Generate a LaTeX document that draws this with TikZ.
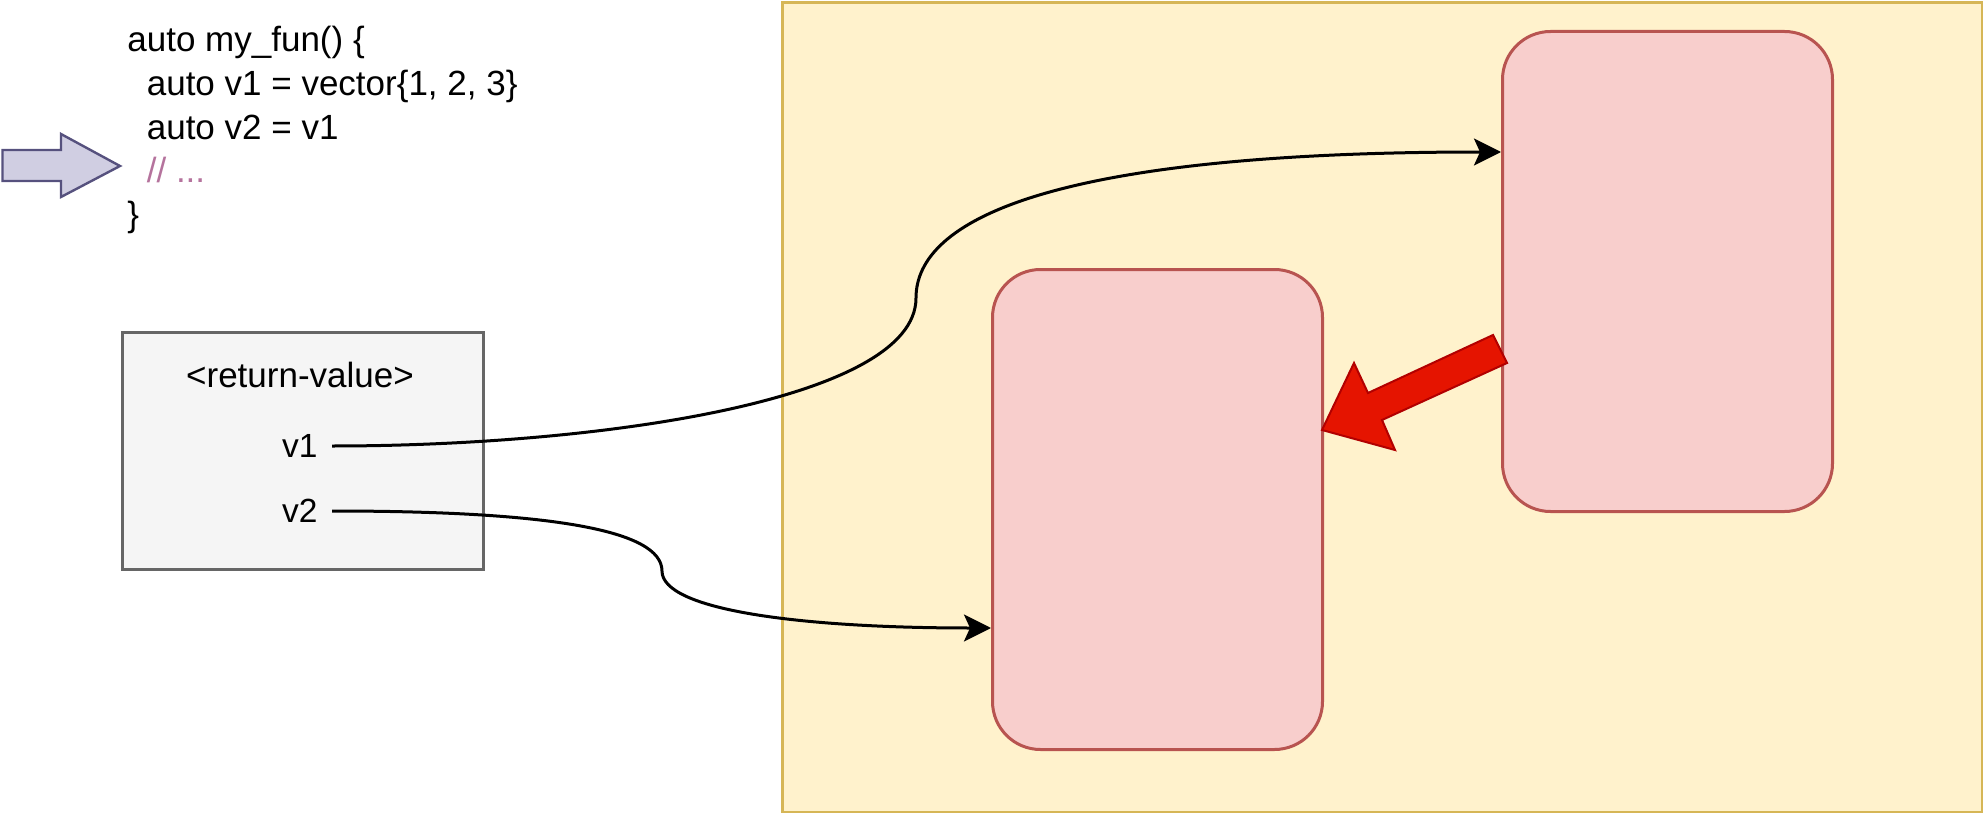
\documentclass[tikz,border=0pt]{standalone}
\usepackage{fontspec}
\setmainfont{Liberation Sans}
\usetikzlibrary{arrows.meta}
\definecolor{pinkfill}{HTML}{F8CECC}
\definecolor{pinkline}{HTML}{B85450}
\definecolor{yelfill}{HTML}{FFF2CC}
\definecolor{yelline}{HTML}{D6B656}
\definecolor{grayfill}{HTML}{F5F5F5}
\definecolor{grayline}{HTML}{666666}
\definecolor{bluefill}{HTML}{D0CEE2}
\definecolor{blueline}{HTML}{56517E}
\definecolor{redfill}{HTML}{E51400}
\definecolor{redline}{HTML}{B20000}
\definecolor{commentcol}{HTML}{B5739D}
\tikzset{
  memblock/.style={draw=pinkline, fill=pinkfill, line width=1.5pt, rounded corners=24pt, minimum width=165pt, minimum height=240pt, inner sep=0pt, anchor=north west},
  heapbox/.style={draw=yelline, fill=yelfill, line width=1.5pt, minimum width=600pt, minimum height=405pt, inner sep=0pt, anchor=north west},
  framebox/.style={draw=grayline, fill=grayfill, line width=1.5pt, minimum width=180.5pt, minimum height=118.5pt, inner sep=0pt, anchor=north west},
  codeline/.style={anchor=base west, inner sep=0pt, font=\fontsize{17.5pt}{21pt}\selectfont},
  varlabel/.style={anchor=base east, inner sep=0pt, font=\fontsize{16.75pt}{20pt}\selectfont},
  conn/.style={line width=1.5pt, -{Stealth[length=13.5pt, width=13.5pt, inset=3pt]}},
}
\begin{document}
\begin{tikzpicture}[x=0.5pt, y=-0.5pt]
\useasboundingbox (0,0) rectangle (1983,813);
% heap area
\node[heapbox] (heap) at (781,1) {};
% memory blocks
\node[memblock] (boxR) at (1501,30) {};
\node[memblock] (boxL) at (991,268) {};
% frame box
\node[framebox] (frame) at (121,331) {};
\node[anchor=base, inner sep=0pt, font=\fontsize{17.5pt}{21pt}\selectfont] (rv) at (300,387) {<return-value>};
\node[varlabel] (v1) at (318,457) {v1};
\node[varlabel] (v2) at (318,522) {v2};
% code
\node[codeline] (c1) at (127,52) {auto my\_fun() \{};
\node[codeline] (c2) at (127,96) {\ \ auto v1 = vector\{1, 2, 3\}};
\node[codeline] (c3) at (127,140) {\ \ auto v2 = v1};
\node[codeline, text=commentcol] (c4) at (127,183) {\ \ // ...};
\node[codeline] (c5) at (127,227) {\}};
% pointer arrow
\draw[draw=blueline, fill=bluefill, line width=1.2pt, line join=miter]
  (2.5,150) -- (61,150) -- (61,134) -- (120,166) -- (61,197) -- (61,181) -- (2.5,181) -- cycle;
% connectors
\coordinate (v1s) at (332,446);
\coordinate (m1) at (916,298);
\coordinate (e1) at (boxR.west |- 0,152);
\coordinate (v2s) at (332,511);
\coordinate (m2) at (662,571);
\coordinate (e2) at (boxL.west |- 0,628);
\draw[conn] (v1s) .. controls +(268,0) and +(0,102) .. (m1)
  .. controls +(0,-78) and +(-451,0) .. (e1);
\draw[conn] (v2s) .. controls +(218,0) and +(0,-41) .. (m2)
  .. controls +(0,39) and +(-191,0) .. (e2);
% copy arrow
\draw[draw=redline, fill=redfill, line width=1pt, line join=miter]
  (1322,430) -- (1354,363) -- (1368,393) -- (1493,335) -- (1507,363) -- (1382,420) -- (1395,450) -- cycle;
\end{tikzpicture}
\end{document}
